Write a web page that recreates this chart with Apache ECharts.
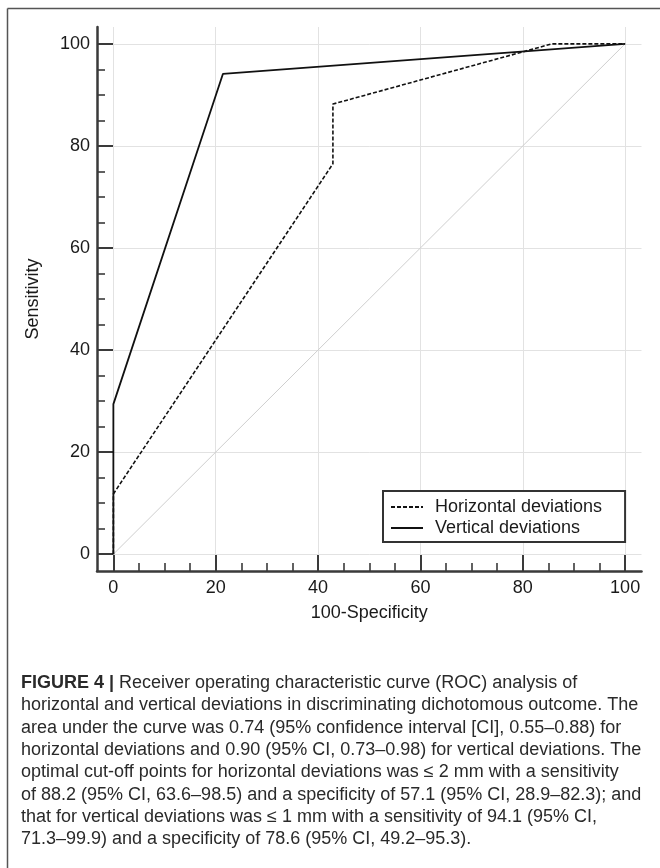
<!DOCTYPE html>
<html>
<head>
<meta charset="utf-8">
<script src="https://cdn.jsdelivr.net/npm/echarts@6/dist/echarts.min.js"></script>
<style>
html,body{margin:0;padding:0;background:#fff;}
#chart{width:660px;height:868px;}
</style>
</head>
<body>
<div id="chart"></div>
<script>
// ---- data ----
const seriesNames = ['Horizontal deviations', 'Vertical deviations'];
const horizontalFPR = [0, 0, 42.9, 42.9, 85.7, 100];
const horizontalTPR = [0, 11.8, 76.5, 88.2, 100, 100];
const verticalFPR = [0, 0, 21.4, 100];
const verticalTPR = [0, 29.4, 94.1, 100];
const diagonalX = [0, 100];
const diagonalY = [0, 100];
const majorTicks = [0, 20, 40, 60, 80, 100];
const minorTicks = [5, 10, 15, 25, 30, 35, 45, 50, 55, 65, 70, 75, 85, 90, 95];
const xAxisName = '100-Specificity';
const yAxisName = 'Sensitivity';
const captionLines = [
  '{b|FIGURE 4 |} Receiver operating characteristic curve (ROC) analysis of',
  'horizontal and vertical deviations in discriminating dichotomous outcome. The',
  'area under the curve was 0.74 (95% confidence interval [CI], 0.55–0.88) for',
  'horizontal deviations and 0.90 (95% CI, 0.73–0.98) for vertical deviations. The',
  'optimal cut-off points for horizontal deviations was ≤ 2 mm with a sensitivity',
  'of 88.2 (95% CI, 63.6–98.5) and a specificity of 57.1 (95% CI, 28.9–82.3); and',
  'that for vertical deviations was ≤ 1 mm with a sensitivity of 94.1 (95% CI,',
  '71.3–99.9) and a specificity of 78.6 (95% CI, 49.2–95.3).'
];

const zip = (a, b) => a.map((v, i) => [v, b[i]]);

const FONT = '"Liberation Sans", Arial, Helvetica, sans-serif';
const AX = '#3a3a3a';
const XMIN = -3.2, XMAX = 103.2, YMIN = -3.3, YMAX = 103.3;

function mainAxis(pos, isX) {
  return {
    type: 'value', position: pos,
    min: isX ? XMIN : YMIN, max: isX ? XMAX : YMAX,
    name: isX ? xAxisName : yAxisName,
    nameLocation: 'middle',
    nameGap: isX ? 33 : 55,
    nameTextStyle: {fontFamily: FONT, fontSize: 18, color: '#1a1a1a'},
    axisLine: {show: true, onZero: false, lineStyle: {color: AX, width: 2.5}},
    axisTick: {show: true, inside: true, length: 16, customValues: majorTicks,
      lineStyle: {color: AX, width: 2}},
    axisLabel: {show: true, customValues: majorTicks, fontFamily: FONT, fontSize: 18,
      color: '#1a1a1a', margin: isX ? 8 : 7},
    splitLine: {show: true, lineStyle: {color: '#e2e2e2', width: 1}},
    minorTick: {show: false}
  };
}
function minorAxis(pos, isX) {
  return {
    type: 'value', position: pos,
    min: isX ? XMIN : YMIN, max: isX ? XMAX : YMAX,
    axisLine: {show: false, onZero: false},
    axisTick: {show: true, inside: true, length: 8, customValues: minorTicks,
      lineStyle: {color: AX, width: 1.6}},
    axisLabel: {show: false},
    splitLine: {show: false}
  };
}

const chart = echarts.init(document.getElementById('chart'), null, {renderer: 'canvas'});
chart.setOption({
  animation: false,
  backgroundColor: '#fff',
  grid: {left: 97, top: 27, width: 544.5, height: 544, outerBoundsMode: 'none'},
  xAxis: [mainAxis('bottom', true), minorAxis('bottom', true)],
  yAxis: [mainAxis('left', false), minorAxis('left', false)],
  legend: {
    show: true,
    data: seriesNames,
    orient: 'vertical',
    left: 383, top: 491,
    padding: [7, 23, 5, 7],
    itemWidth: 32, itemHeight: 14, itemGap: 3,
    borderColor: '#333', borderWidth: 2,
    backgroundColor: '#fff',
    itemStyle: {opacity: 0},
    textStyle: {fontFamily: FONT, fontSize: 18, color: '#1a1a1a', padding: [0, 0, 0, 7]}
  },
  series: [
    {
      name: 'diagonal', type: 'line', data: zip(diagonalX, diagonalY),
      symbol: 'none', silent: true,
      lineStyle: {color: '#cfcfcf', width: 1}
    },
    {
      name: seriesNames[0], type: 'line', data: zip(horizontalFPR, horizontalTPR),
      symbol: 'none', color: '#111',
      lineStyle: {color: '#111', width: 1.6, type: [4, 2]}
    },
    {
      name: seriesNames[1], type: 'line', data: zip(verticalFPR, verticalTPR),
      symbol: 'none', color: '#111',
      lineStyle: {color: '#111', width: 1.8, type: 'solid'}
    }
  ],
  graphic: [
    {type: 'line', shape: {x1: 7.5, y1: 8.5, x2: 660, y2: 8.5}, style: {stroke: '#555', lineWidth: 1.5}, silent: true},
    {type: 'line', shape: {x1: 7.5, y1: 8.5, x2: 7.5, y2: 868}, style: {stroke: '#555', lineWidth: 1.5}, silent: true},
    {
      type: 'text', left: 21, top: 672, silent: true,
      style: {
        text: captionLines.join('\n'),
        fontFamily: FONT, fontSize: 18, lineHeight: 22.3, fill: '#2a2a2a',
        rich: {b: {fontFamily: FONT, fontSize: 18, fontWeight: 'bold', fill: '#2a2a2a', lineHeight: 22.3}}
      }
    }
  ]
});
</script>
</body>
</html>
